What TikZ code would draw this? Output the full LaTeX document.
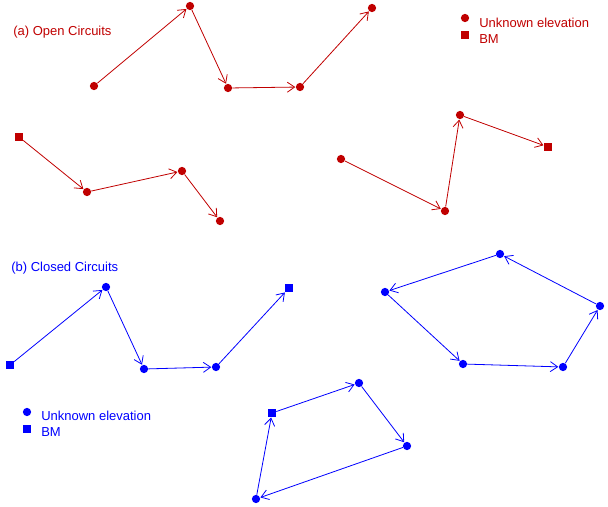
\documentclass[tikz,border=0pt]{standalone}
\usepackage{fontspec}
\setmainfont{Liberation Sans}
\usetikzlibrary{arrows.meta}
\definecolor{cred}{HTML}{C00000}
\definecolor{cblue}{HTML}{0000FF}
\begin{document}
\begin{tikzpicture}[x=0.75pt,y=-0.75pt,
  dot/.style={circle,fill,inner sep=0pt,minimum size=6.2pt},
  bm/.style={rectangle,fill,inner sep=0pt,minimum size=6pt},
  leg/.style={anchor=base west,inner sep=0pt,font=\fontsize{9.75pt}{11pt}\selectfont},
  link/.style={-{Straight Barb[length=5.5pt,width=7.5pt]},line width=0.6pt,shorten >=0.2pt}]
\useasboundingbox (0,0) rectangle (608,507);
% ---------- (a) open circuits ----------
\begin{scope}[every node/.append style={text=cred},cred]
\node[leg] (ta) at (13,35) {(a) Open Circuits};
\node[dot] (a1) at (94,86) {};
\node[dot] (a2) at (190,6) {};
\node[dot] (a3) at (228,88) {};
\node[dot] (a4) at (300,87) {};
\node[dot] (a5) at (372,8) {};
\draw[link] (a1) -- (a2);
\draw[link] (a2) -- (a3);
\draw[link] (a3) -- (a4);
\draw[link] (a4) -- (a5);
\node[bm] (b1) at (19,137) {};
\node[dot] (b2) at (87,192) {};
\node[dot] (b3) at (182,171) {};
\node[dot] (b4) at (220,221) {};
\draw[link] (b1) -- (b2);
\draw[link] (b2) -- (b3);
\draw[link] (b3) -- (b4);
\node[dot] (c1) at (341,159) {};
\node[dot] (c2) at (445,211) {};
\node[dot] (c3) at (460,115) {};
\node[bm] (c4) at (548,147) {};
\draw[link] (c1) -- (c2);
\draw[link] (c2) -- (c3);
\draw[link] (c3) -- (c4);
\node[dot] (la1) at (465,18) {};
\node[bm] (la2) at (465,35) {};
\node[leg] (lat1) at (479,27) {Unknown elevation};
\node[leg] (lat2) at (479,43) {BM};
\end{scope}
% ---------- (b) closed circuits ----------
\begin{scope}[every node/.append style={text=cblue},cblue]
\node[leg] (tb) at (11,271) {(b) Closed Circuits};
\node[bm] (d1) at (10,365) {};
\node[dot] (d2) at (106,287) {};
\node[dot] (d3) at (144,369) {};
\node[dot] (d4) at (216,367) {};
\node[bm] (d5) at (289,288) {};
\draw[link] (d1) -- (d2);
\draw[link] (d2) -- (d3);
\draw[link] (d3) -- (d4);
\draw[link] (d4) -- (d5);
\node[dot] (e1) at (385,292) {};
\node[dot] (e2) at (463,364) {};
\node[dot] (e3) at (563,367) {};
\node[dot] (e4) at (600,306) {};
\node[dot] (e5) at (500,254) {};
\draw[link] (e1) -- (e2);
\draw[link] (e2) -- (e3);
\draw[link] (e3) -- (e4);
\draw[link] (e4) -- (e5);
\draw[link] (e5) -- (e1);
\node[bm] (f1) at (272,413) {};
\node[dot] (f2) at (359,383) {};
\node[dot] (f3) at (407,446) {};
\node[dot] (f4) at (256,499) {};
\draw[link] (f1) -- (f2);
\draw[link] (f2) -- (f3);
\draw[link] (f3) -- (f4);
\draw[link] (f4) -- (f1);
\node[dot] (lb1) at (27,412) {};
\node[bm] (lb2) at (27,429) {};
\node[leg] (lbt1) at (41,420) {Unknown elevation};
\node[leg] (lbt2) at (41,436) {BM};
\end{scope}
\end{tikzpicture}
\end{document}
